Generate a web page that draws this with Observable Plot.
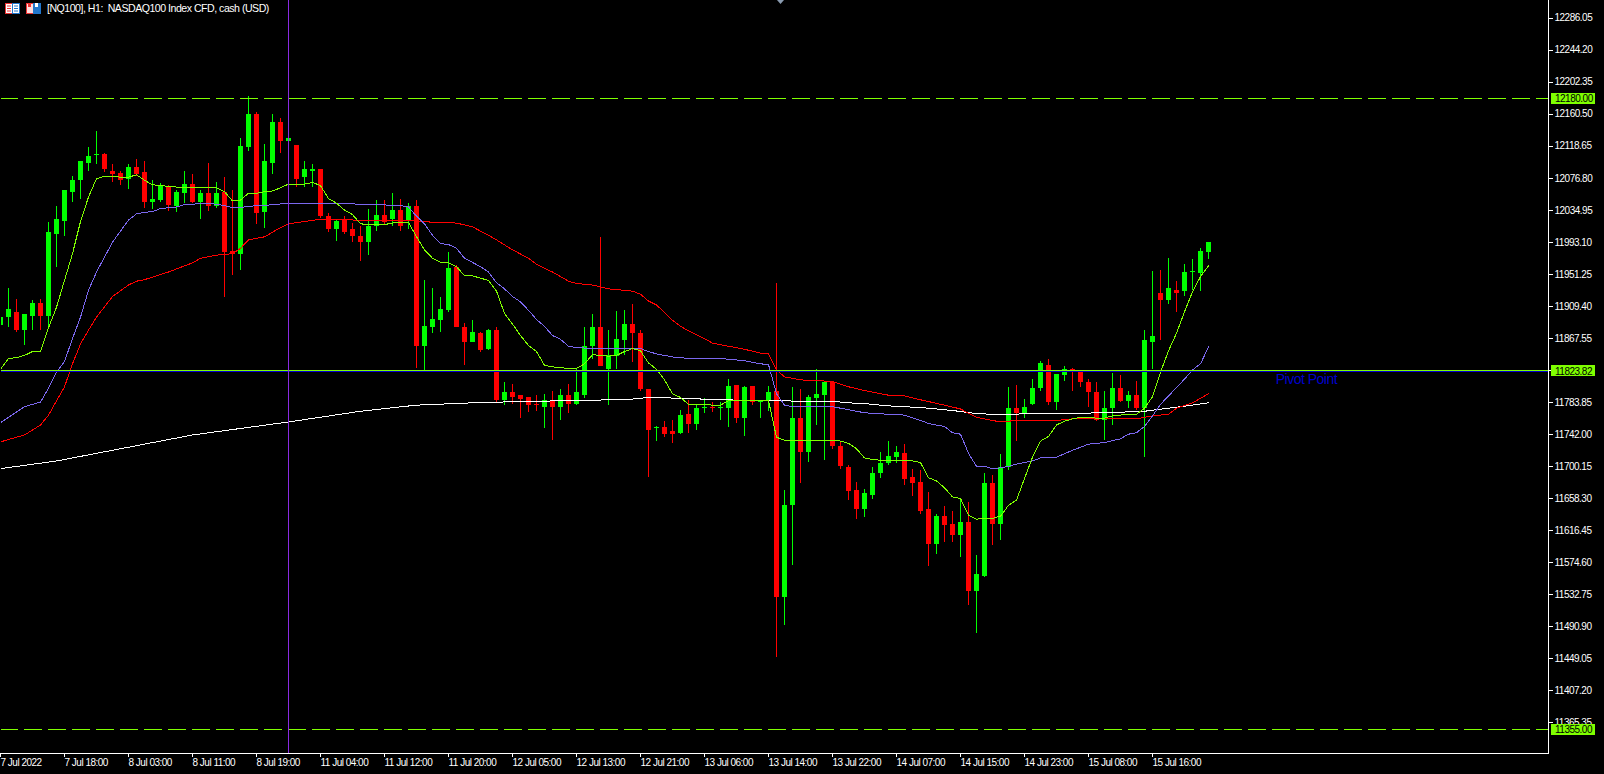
<!DOCTYPE html>
<html>
<head>
<meta charset="utf-8">
<script src="https://cdn.jsdelivr.net/npm/d3@7"></script>
<script src="https://cdn.jsdelivr.net/npm/@observablehq/plot@0.6"></script>
<style>
html,body{margin:0;padding:0;background:#000;overflow:hidden}
#chart{position:relative;width:1604px;height:774px}
#chart svg{display:block}
.ico{position:absolute;top:3px}
</style>
</head>
<body>
<div id="chart"></div>
<script>
const chartTitle = "[NQ100], H1:  NASDAQ100 Index CFD, cash (USD)";
const barHigh = [11907,11931,11917,11898,11916,11917,12018,12038,12060,12078,12097,12116,12137,12108,12093,12085,12093,12100,12097,12073,12069,12066,12059,12085,12081,12060,12095,12070,12076,12059,12128,12182,12161,12120,12159,12154,12134,12119,12097,12094,12087,12030,12021,12025,12017,12012,12035,12046,12046,12055,12048,12042,12046,11942,11932,11920,11978,11961,11886,11889,11874,11878,11881,11808,11806,11792,11789,11792,11793,11797,11799,11806,11827,11880,11898,11998,11877,11902,11903,11911,11876,11800,11751,11758,11759,11772,11785,11779,11788,11783,11782,11812,11805,11804,11804,11785,11804,11938,11668,11802,11800,11791,11825,11808,11810,11731,11700,11678,11669,11698,11717,11731,11725,11728,11695,11693,11665,11636,11647,11640,11655,11652,11582,11690,11687,11714,11802,11805,11787,11813,11836,11838,11819,11829,11827,11823,11813,11808,11797,11821,11818,11797,11810,11876,11954,11955,11971,11941,11963,11970,11984,11992];
const barLow = [11870,11881,11874,11857,11876,11877,11880,11959,11999,12044,12048,12085,12093,12083,12070,12066,12061,12078,12036,12035,12044,12032,12031,12043,12043,12022,12032,12036,11920,11949,11955,12111,12015,12010,12080,12108,12113,12063,12064,12064,12023,12004,11993,12002,11992,11967,11974,12006,12015,12013,12006,12008,11827,11824,11872,11874,11900,11880,11831,11861,11848,11851,11782,11778,11780,11761,11770,11771,11749,11733,11759,11768,11779,11788,11838,11829,11778,11825,11844,11835,11797,11684,11732,11737,11729,11740,11742,11746,11768,11770,11759,11750,11755,11738,11778,11762,11771,11449,11491,11570,11676,11704,11753,11707,11721,11695,11655,11630,11632,11656,11683,11700,11703,11674,11660,11636,11568,11584,11600,11599,11580,11517,11480,11554,11595,11602,11693,11732,11762,11778,11797,11778,11772,11810,11797,11802,11776,11758,11733,11753,11782,11774,11772,11710,11825,11863,11910,11900,11921,11929,11928,11970];
const barOpen = [11883,11893,11900,11876,11895,11912,11895,12002,12019,12057,12072,12095,12105,12107,12085,12082,12074,12090,12083,12044,12047,12065,12039,12056,12068,12044,12055,12039,12057,11980,11976,12116,12159,12031,12095,12148,12123,12119,12076,12085,12087,12025,12008,12021,12008,12000,11992,12012,12027,12021,12034,12019,12039,11856,11881,11890,11903,11959,11880,11861,11872,11852,11876,11785,11796,11791,11789,11780,11776,11785,11776,11792,11780,11792,11855,11881,11826,11842,11864,11885,11873,11800,11748,11750,11744,11742,11767,11754,11774,11776,11774,11775,11805,11762,11804,11783,11784,11797,11528,11648,11762,11717,11788,11791,11808,11725,11697,11668,11642,11661,11689,11703,11711,11716,11685,11678,11642,11597,11634,11623,11609,11625,11536,11555,11677,11623,11698,11774,11767,11780,11801,11831,11782,11818,11826,11822,11809,11795,11759,11774,11801,11784,11792,11775,11861,11925,11916,11929,11927,11953,11951,11979];
const barClose = [11894,11904,11877,11897,11912,11895,12005,12021,12060,12072,12097,12104,12106,12087,12081,12073,12090,12081,12044,12048,12065,12040,12057,12068,12044,12055,12038,12056,11979,11976,12117,12159,12030,12097,12149,12123,12127,12074,12087,12087,12025,12008,12019,12005,11999,11991,12013,12027,12018,12034,12013,12039,11855,11882,11891,11904,11958,11880,11861,11874,11851,11876,11785,11796,11789,11787,11779,11778,11785,11776,11792,11780,11795,11855,11881,11829,11844,11865,11885,11872,11799,11746,11750,11741,11741,11766,11754,11775,11776,11774,11776,11804,11762,11802,11783,11785,11796,11528,11648,11761,11717,11789,11793,11808,11725,11699,11666,11642,11663,11689,11703,11712,11717,11682,11676,11640,11597,11634,11622,11609,11625,11536,11557,11676,11623,11698,11774,11768,11776,11801,11834,11783,11819,11826,11823,11808,11795,11759,11775,11801,11784,11792,11774,11863,11869,11916,11931,11925,11953,11954,11980,11991];

// Fast moving average, one reading per bar
const fastMA = [11826,11840,11841,11844,11849,11849,11880,11907,11942,11977,12019,12051,12075,12078,12078,12077,12077,12080,12073,12067,12066,12065,12064,12064,12063,12063,12063,12063,12058,12046,12047,12056,12056,12058,12059,12063,12068,12068,12068,12070,12066,12049,12043,12034,12028,12016,12015,12015,12015,12017,12018,12018,11999,11982,11971,11966,11965,11960,11948,11948,11945,11942,11928,11899,11885,11870,11857,11849,11831,11829,11828,11827,11827,11833,11845,11844,11843,11844,11849,11853,11850,11834,11826,11812,11794,11789,11780,11780,11780,11779,11779,11785,11785,11785,11785,11785,11785,11737,11733,11733,11733,11733,11733,11733,11733,11732,11729,11722,11710,11708,11707,11707,11707,11706,11706,11704,11684,11680,11671,11659,11657,11635,11630,11631,11631,11634,11648,11655,11683,11711,11732,11738,11753,11758,11761,11763,11763,11762,11762,11765,11766,11767,11767,11775,11790,11822,11850,11873,11901,11927,11947,11961];

// Slower averages, read at the bars where they bend
const midBars = [0,2,3,5,6,7,8,9,10,11,12,14,16,17,18,19,20,22,23,26,28,29,30,31,33,36,39,42,44,47,50,51,52,53,54,55,56,57,58,60,61,62,63,64,65,66,67,68,69,70,71,72,75,80,81,82,83,84,86,90,91,93,94,95,96,97,98,99,104,106,108,111,113,115,116,118,119,120,121,122,123,124,125,126,127,129,130,132,134,136,138,140,141,142,143,144,145,146,147,148,149,150,151];
const midMA = [11756,11770,11777,11783,11801,11822,11836,11866,11894,11929,11953,11992,12021,12029,12031,12032,12036,12038,12041,12043,12040,12037,12037,12039,12040,12043,12043,12043,12042,12041,12040,12038,12026,12016,12001,11990,11989,11984,11971,11960,11953,11939,11931,11921,11914,11903,11891,11882,11870,11865,11856,11854,11853,11853,11849,11846,11844,11842,11840,11840,11839,11837,11835,11833,11832,11794,11779,11777,11777,11773,11769,11767,11766,11759,11755,11751,11743,11741,11716,11699,11699,11696,11697,11699,11702,11706,11710,11711,11720,11728,11730,11735,11741,11743,11751,11765,11780,11791,11802,11813,11825,11833,11855];
const slowBars = [0,3,5,6,8,9,10,11,12,14,16,17,18,21,24,25,27,29,30,31,33,34,35,36,38,40,44,50,52,54,57,59,61,62,64,66,67,69,71,72,74,76,79,80,81,82,83,84,85,86,88,89,91,93,95,96,97,98,100,104,106,108,111,113,115,118,120,122,123,125,127,132,134,142,144,146,147,149,150,151];
const slowMA = [11731,11740,11753,11766,11803,11833,11859,11877,11894,11921,11936,11941,11943,11953,11965,11971,11975,11977,11984,11995,11999,12005,12011,12016,12019,12022,12021,12020,12020,12018,12017,12012,12001,11995,11982,11971,11963,11953,11941,11938,11936,11931,11928,11924,11915,11910,11900,11890,11882,11876,11866,11860,11856,11852,11847,11846,11825,11816,11812,11810,11803,11798,11792,11791,11786,11779,11774,11763,11761,11757,11759,11759,11761,11761,11765,11767,11775,11782,11788,11794];
const longBars = [0,7,16,24,36,45,52,59,66,73,79,81,85,90,95,97,100,104,106,108,111,113,116,119,122,124,132,138,143,146,149,151];
const longMA = [11696,11706,11724,11740,11757,11771,11779,11782,11784,11785,11787,11789,11788,11786,11785,11785,11784,11784,11782,11781,11778,11777,11775,11772,11768,11767,11768,11769,11771,11775,11779,11782];

const priceTicks = [12286.05,12244.20,12202.35,12160.50,12118.65,12076.80,12034.95,11993.10,11951.25,11909.40,11867.55,11825.70,11783.85,11742.00,11700.15,11658.30,11616.45,11574.60,11532.75,11490.90,11449.05,11407.20,11365.35];
const timeTickBars = [0,8,16,24,32,40,48,56,64,72,80,88,96,104,112,120,128,136,144];
const timeTickLabels = ["7 Jul 2022","7 Jul 18:00","8 Jul 03:00","8 Jul 11:00","8 Jul 19:00","11 Jul 04:00","11 Jul 12:00","11 Jul 20:00","12 Jul 05:00","12 Jul 13:00","12 Jul 21:00","13 Jul 06:00","13 Jul 14:00","13 Jul 22:00","14 Jul 07:00","14 Jul 15:00","14 Jul 23:00","15 Jul 08:00","15 Jul 16:00"];

const dashedLevels = [12180, 11355];
const pivotLevel = [11823.82];
const pivotLabel = ["Pivot Point"];
const pivotLabelBar = 159.4;
const pivotLabelPrice = 11813;
const cursorBar = [36];
const bars = d3.range(barHigh.length);

const UP = "#00ff00", DOWN = "#ff0000", LEVEL = "#7fff00";
const colorOf = i => barClose[i] >= barOpen[i] ? UP : DOWN;
const badgeLevels = [...dashedLevels, ...pivotLevel];

const chart = Plot.plot({
  width: 1604, height: 774,
  marginTop: 0, marginLeft: 0, marginRight: 56, marginBottom: 21,
  style: {background: "#000", color: "#fff", fontFamily: "Liberation Sans", fontSize: "10px", letterSpacing: "-0.5px", shapeRendering: "crispEdges"},
  x: {type: "linear", domain: [0, 193.5], axis: null},
  y: {type: "linear", domain: [11323.65, 12307.9], axis: null},
  marks: [
    Plot.ruleX(bars, {x: i => i, y1: i => barLow[i], y2: i => barHigh[i], stroke: colorOf, strokeWidth: 1}),
    Plot.ruleX(bars, {x: i => i, y1: i => barOpen[i], y2: i => barClose[i], stroke: colorOf, strokeWidth: 5}),
    Plot.line(longBars, {x: i => i, y: (d, k) => longMA[k], stroke: "#ffffff", strokeWidth: 1}),
    Plot.line(slowBars, {x: i => i, y: (d, k) => slowMA[k], stroke: "#ff0000", strokeWidth: 1}),
    Plot.line(midBars, {x: i => i, y: (d, k) => midMA[k], stroke: "#7b68ee", strokeWidth: 1}),
    Plot.line(bars, {x: i => i, y: i => fastMA[i], stroke: "#7fff00", strokeWidth: 1}),
    Plot.ruleY(pivotLevel, {stroke: "#0000cd", strokeWidth: 1, dy: 1}),
    Plot.ruleY(pivotLevel, {stroke: LEVEL, strokeWidth: 1}),
    Plot.ruleY(dashedLevels, {stroke: LEVEL, strokeWidth: 1, strokeDasharray: "18,6"}),
    Plot.ruleX(cursorBar, {stroke: "#8a2be2", strokeWidth: 1}),
    Plot.text(pivotLabel, {x: () => pivotLabelBar, y: () => pivotLabelPrice, text: d => d, fill: "#0000cd", fontSize: 14, textAnchor: "start"}),
    Plot.frame({anchor: "left", stroke: "#000"}),
    Plot.frame({anchor: "right", stroke: "#fff"}),
    Plot.frame({anchor: "bottom", stroke: "#fff"}),
    Plot.axisY(priceTicks, {anchor: "right", tickSize: 4, tickPadding: 2, stroke: "#fff", fill: "#fff", tickFormat: d => d.toFixed(2), label: null, dy: 1}),
    Plot.axisX(timeTickBars, {anchor: "bottom", tickSize: 4, tickPadding: 1, stroke: "#fff", fill: "#fff", textAnchor: "start", tickFormat: (d, i) => timeTickLabels[timeTickBars.indexOf(d)], label: null}),
    Plot.ruleY(badgeLevels, {stroke: LEVEL, strokeWidth: 11, dx: 47, insetLeft: 1504}),
    Plot.text(badgeLevels, {y: d => d, text: d => d.toFixed(2), frameAnchor: "right", textAnchor: "start", dx: 6.5, dy: 0.5, fill: "#000"}),
    Plot.text([chartTitle], {text: d => d, frameAnchor: "top-left", dx: 46.5, dy: 3.5, lineAnchor: "top", textAnchor: "start", fill: "#fff", fontSize: 10.6})
  ]
});
const host = document.getElementById("chart");
host.appendChild(chart);
host.insertAdjacentHTML("beforeend", `
<svg class="ico" style="left:5px" width="15" height="11" viewBox="0 0 15 11"><rect x="0.5" y="0.5" width="7" height="10" fill="#fff" stroke="#e33"/><rect x="7.5" y="0.5" width="7" height="10" fill="#fff" stroke="#27c"/><path d="M2 3h4M2 5.5h4M2 8h4" stroke="#e33"/><path d="M9 3h4M9 5.5h4M9 8h4" stroke="#27c"/></svg>
<svg class="ico" style="left:26px" width="15" height="11" viewBox="0 0 15 11"><rect x="0.5" y="0.5" width="7" height="10" fill="#fdd" stroke="#e33"/><rect x="7.5" y="0.5" width="7" height="10" fill="#27c" stroke="#27c"/><rect x="9" y="0" width="3" height="4" fill="#fff"/><rect x="2" y="0" width="3" height="4" fill="#e33"/></svg>
<svg class="ico" style="left:777px;top:0" width="7" height="4" viewBox="0 0 7 4"><path d="M0 0h7L3.5 4z" fill="#8a9bb0"/></svg>`);
</script>
</body>
</html>
